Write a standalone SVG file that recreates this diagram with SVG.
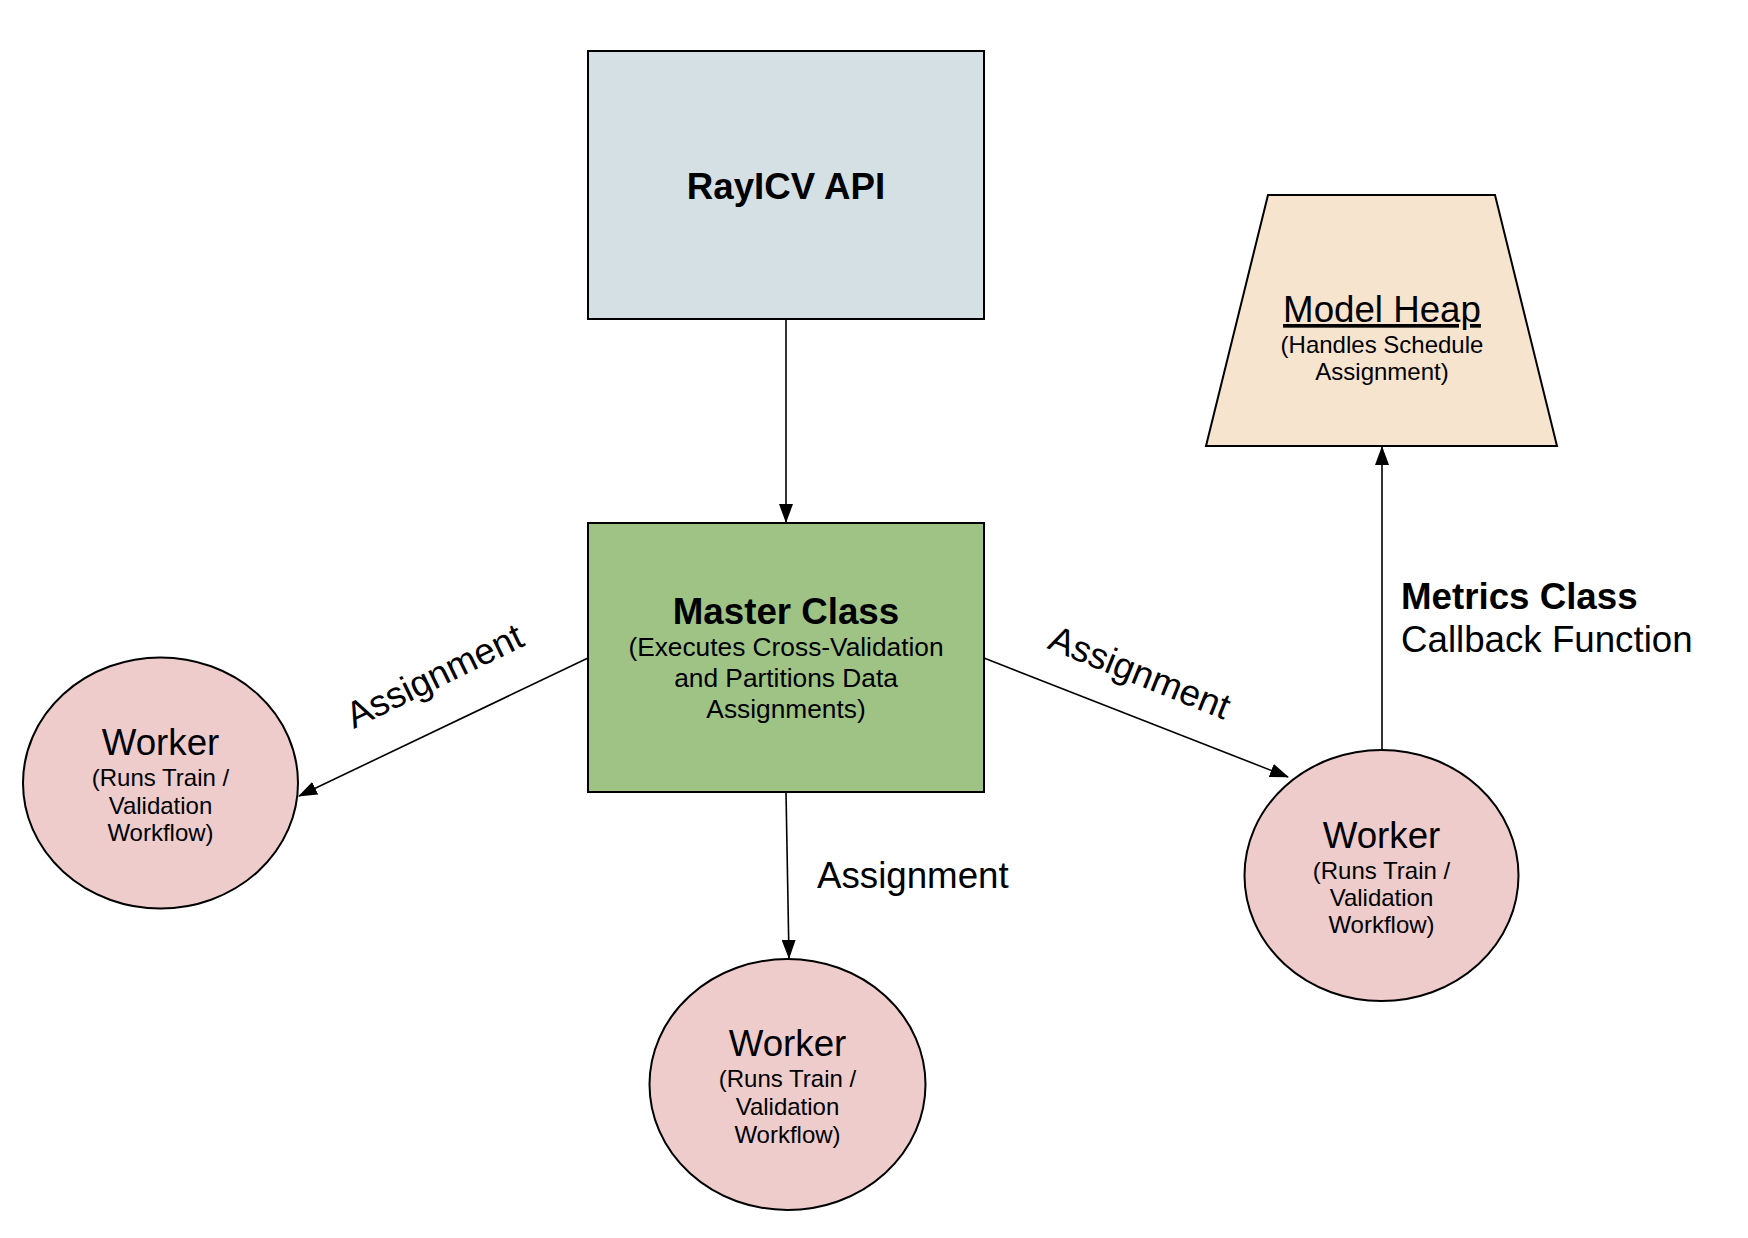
<svg xmlns="http://www.w3.org/2000/svg" width="1748" height="1238" viewBox="0 0 1748 1238">
<style>
text{font-family:"Liberation Sans",Arial,sans-serif;fill:#000;text-anchor:middle}
.b{font-weight:bold;font-size:36.7px}
.t{font-size:36.7px}
.s{font-size:24px}
.m{font-size:26.3px}
.lbl{font-size:36.7px}
.shape{stroke:#000;stroke-width:2}
.edge{stroke:#000;stroke-width:1.6;fill:none;marker-end:url(#arr)}
</style>
<defs>
<marker id="arr" markerUnits="userSpaceOnUse" markerWidth="19" markerHeight="14" refX="18" refY="7" orient="auto">
<path d="M0,0 L19,7 L0,14 Z" fill="#000"/>
</marker>
</defs>
<rect width="1748" height="1238" fill="#fff"/>
<g id="connectors">
<line class="edge" x1="786" y1="319" x2="786" y2="522"/>
<line class="edge" x1="588" y1="658" x2="299" y2="796"/>
<line class="edge" x1="786" y1="792" x2="789" y2="958"/>
<line class="edge" x1="984" y1="658" x2="1288" y2="777"/>
<line class="edge" x1="1382" y1="750" x2="1382" y2="447"/>
<text class="lbl" transform="translate(440,687) rotate(-26)">Assignment</text>
<text class="lbl" transform="translate(1135,684) rotate(22)">Assignment</text>
<text class="lbl" x="817" y="887.5" style="text-anchor:start">Assignment</text>
<text class="b" x="1401" y="609" style="text-anchor:start">Metrics Class</text>
<text class="t" x="1401" y="652" style="text-anchor:start">Callback Function</text>
</g>
<g id="api">
<rect class="shape" x="588" y="51" width="396" height="268" fill="#d5e0e5"/>
<text class="b" x="786" y="199">RayICV API</text>
</g>
<g id="master">
<rect class="shape" x="588" y="523" width="396" height="269" fill="#9fc385"/>
<text class="b" x="786" y="624">Master Class</text>
<text class="m" x="786" y="656">(Executes Cross-Validation</text>
<text class="m" x="786" y="687">and Partitions Data</text>
<text class="m" x="786" y="718">Assignments)</text>
</g>
<g id="heap">
<path class="shape" d="M1268,195 L1495,195 L1557,446 L1206,446 Z" fill="#f6e4cf"/>
<text class="t" x="1382" y="322" style="text-decoration:underline">Model Heap</text>
<text class="s" x="1382" y="353">(Handles Schedule</text>
<text class="s" x="1382" y="380">Assignment)</text>
</g>
<g id="worker-left">
<ellipse class="shape" cx="160.5" cy="783" rx="137.5" ry="125.5" fill="#eecccc"/>
<text class="t" x="160.5" y="755">Worker</text>
<text class="s" x="160.5" y="786">(Runs Train /</text>
<text class="s" x="160.5" y="814">Validation</text>
<text class="s" x="160.5" y="841">Workflow)</text>
</g>
<g id="worker-bottom">
<ellipse class="shape" cx="787.5" cy="1084.5" rx="138" ry="125.5" fill="#eecccc"/>
<text class="t" x="787.5" y="1056">Worker</text>
<text class="s" x="787.5" y="1087">(Runs Train /</text>
<text class="s" x="787.5" y="1115">Validation</text>
<text class="s" x="787.5" y="1142.5">Workflow)</text>
</g>
<g id="worker-right">
<ellipse class="shape" cx="1381.5" cy="875.5" rx="137" ry="125.5" fill="#eecccc"/>
<text class="t" x="1381.5" y="847.5">Worker</text>
<text class="s" x="1381.5" y="878.5">(Runs Train /</text>
<text class="s" x="1381.5" y="906">Validation</text>
<text class="s" x="1381.5" y="933">Workflow)</text>
</g>
</svg>
